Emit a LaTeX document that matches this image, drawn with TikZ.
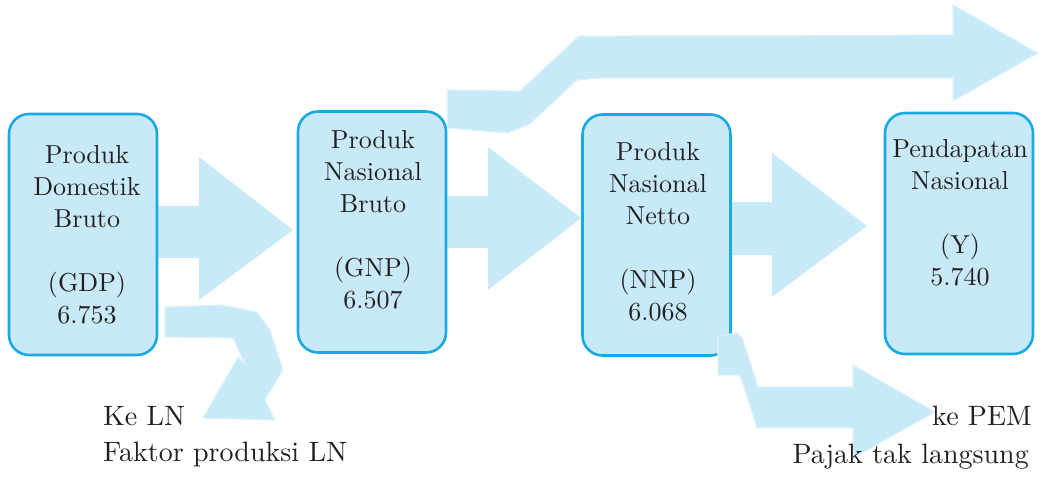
\documentclass[tikz,border=0pt]{standalone}
\usepackage{fontspec}
\setmainfont{lmroman10-regular}[Extension=.otf]
\usetikzlibrary{calc}
\definecolor{flowfill}{HTML}{C8E9F8}
\definecolor{flowedge}{HTML}{19AAE3}
\definecolor{flowrim}{HTML}{DFF2FB}
\definecolor{ink}{HTML}{231F20}
\pgfdeclarelayer{background}
\pgfsetlayers{background,main}

\begin{document}
\begin{tikzpicture}[x=1pt,y=-1pt,
  box/.style={draw=flowedge, fill=flowfill, line width=2.6pt, rounded corners=20pt,
              minimum width=148pt, minimum height=241pt, inner sep=0pt},
  boxtext/.style={anchor=north, align=center, inner sep=0pt, text=ink,
                  font=\fontsize{26}{32}\selectfont},
  sidelabel/.style={inner sep=0pt, text=ink, font=\fontsize{28}{34}\selectfont},
  flow/.style={fill=flowfill},
  bentflow/.style={fill=flowfill, draw=flowrim, line width=1.2pt, line join=round}]

\useasboundingbox (0,0) rectangle (1042,479);

% the four accounts
\node[box] (gdp) at (83,234.5) {};
\node[box] (gnp) at (372,232) {};
\node[box] (nnp) at (656.5,235) {};
\node[box] (ni)  at (959,233.5) {};

\node[boxtext] (gdpt) at (87,145) {Produk\\Domestik\\Bruto\\[32pt](GDP)\\6.753};
\node[boxtext] (gnpt) at (373,130) {Produk\\Nasional\\Bruto\\[32pt](GNP)\\6.507};
\node[boxtext] (nnpt) at (658,142) {Produk\\Nasional\\Netto\\[32pt](NNP)\\6.068};
\node[boxtext] (nit)  at (960,139) {Pendapatan\\Nasional\\[32pt](Y)\\5.740};

% indirect taxes to government, lying over the corner of the NNP box
\filldraw[bentflow] (718,336) -- (738,333) -- (743,340) -- (758,387) -- (853,387)
            -- (853,365) -- (935,412) -- (853,458) -- (853,428) -- (757,428)
            -- (740,375) -- (718,375) -- cycle;

% outflow labels
\node[sidelabel, anchor=base west] (kln)  at (103,425) {Ke LN};
\node[sidelabel, anchor=base west] (fpln) at (103,461) {Faktor produksi LN};
\node[sidelabel, anchor=base east] (kpem) at (1032,425) {ke PEM};
\node[sidelabel, anchor=base east] (ptl)  at (1029,463) {Pajak tak langsung};

\begin{pgfonlayer}{background}
  % straight block arrows between the accounts
  \fill[flow] (gdp.east |- 0,206) -- (199,206) -- (199,157) -- (293,230)
              -- (199,300) -- (199,258) -- (gdp.east |- 0,258) -- cycle;
  \fill[flow] (gnp.east |- 0,196) -- (488,196) -- (488,147) -- (nnp.west |- 0,218)
              -- (488,290) -- (488,248) -- (gnp.east |- 0,248) -- cycle;
  \fill[flow] (nnp.east |- 0,202) -- (772,202) -- (772,153) -- (867,226)
              -- (772,297) -- (772,255) -- (nnp.east |- 0,255) -- cycle;
  % GNP straight on to national income, passing over NNP
  \filldraw[bentflow] (gnp.east |- 0,90) -- (520,91) -- (579,36) -- (953,35)
              -- (953,5) -- (1038,53) -- (953,101) -- (953,78) -- (600,78)
              -- (577,80) -- (530,124) -- (508,133) -- (gnp.east |- 0,128) -- cycle;
  % factor income paid abroad
  \filldraw[bentflow] (165,307) -- (222,305) -- (257,312) -- (270,330) -- (283,370)
              -- (265,400) -- (275,420) -- (203,418) -- (238,357) -- (245,364)
              -- (233,338) -- (165,337) -- cycle;
\end{pgfonlayer}
\end{tikzpicture}
\end{document}
